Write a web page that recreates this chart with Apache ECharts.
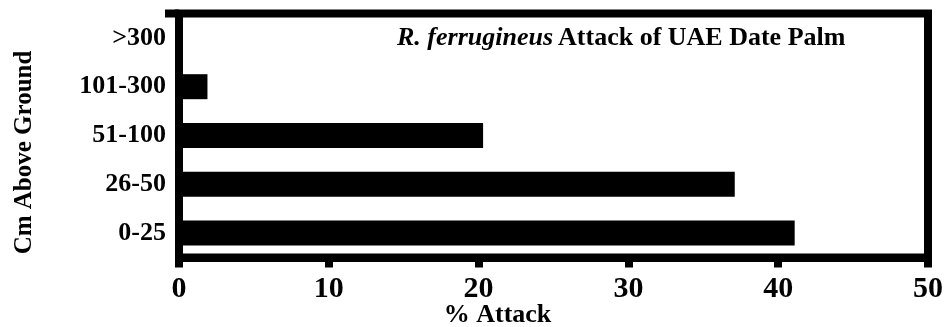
<!DOCTYPE html>
<html>
<head>
<meta charset="utf-8">
<script src="https://cdn.jsdelivr.net/npm/echarts@6/dist/echarts.min.js"></script>
<style>
  html, body { margin: 0; padding: 0; background: #fff; }
  #chart { width: 948px; height: 327px; }
</style>
</head>
<body>
<div id="chart"></div>
<script>
// heights above ground, bottom to top
const heightBands = ['0-25', '26-50', '51-100', '101-300', '>300'];
// % attack per band
const attackPct = [41.1, 37.1, 20.3, 1.9, 0];
const xTicks = [0, 10, 20, 30, 40, 50];

const FONT = '"Liberation Serif", "Times New Roman", serif';

const myChart = echarts.init(document.getElementById('chart'));

const option = {
  backgroundColor: '#fff',
  animation: false,
  title: {
    left: 397,
    top: 25,
    padding: 0,
    text: '{i|R. ferrugineus} {b|Attack of UAE Date Palm}',
    textStyle: {
      rich: {
        i: { fontFamily: FONT, fontSize: 26, fontWeight: 'bold', fontStyle: 'italic', color: '#000' },
        b: { fontFamily: FONT, fontSize: 26, fontWeight: 'bold', color: '#000' }
      }
    }
  },
  grid: {
    left: 179,
    right: 20,
    top: 13.5,
    bottom: 69.5,
    containLabel: false,
    outerBoundsMode: 'none',
    show: true,
    borderWidth: 8,
    borderColor: '#000',
    backgroundColor: 'transparent'
  },
  xAxis: {
    type: 'value',
    min: xTicks[0],
    max: xTicks[xTicks.length - 1],
    interval: 10,
    name: '% Attack',
    nameLocation: 'middle',
    nameGap: 45,
    nameMoveOverlap: false,
    nameTextStyle: {
      fontFamily: FONT, fontSize: 26, fontWeight: 'bold', color: '#000',
      padding: [0, 112, 0, 0]
    },
    axisLine: { show: true, lineStyle: { color: '#000', width: 8 } },
    axisTick: { show: true, length: 10, lineStyle: { color: '#000', width: 8 } },
    axisLabel: {
      margin: 17,
      fontFamily: FONT, fontSize: 30, fontWeight: 'bold', color: '#000'
    },
    splitLine: { show: false }
  },
  yAxis: {
    type: 'category',
    data: heightBands,
    name: 'Cm Above Ground',
    nameLocation: 'middle',
    nameRotate: 90,
    nameGap: 142,
    nameMoveOverlap: false,
    nameTextStyle: {
      fontFamily: FONT, fontSize: 25, fontWeight: 'bold', color: '#000',
      padding: [0, 34, 0, 0]
    },
    axisLine: { show: false },
    axisTick: { show: false },
    axisLabel: {
      margin: 13,
      fontFamily: FONT, fontSize: 26, fontWeight: 'bold', color: '#000'
    },
    splitLine: { show: false }
  },
  series: [
    {
      name: '% Attack',
      type: 'bar',
      data: attackPct,
      barWidth: 25,
      itemStyle: { color: '#000' }
    }
  ],
  graphic: [
    // small stub of the top frame line sticking out to the left
    {
      type: 'rect',
      shape: { x: 165, y: 9.5, width: 14, height: 8 },
      style: { fill: '#000' }
    }
  ]
};

myChart.setOption(option);
</script>
</body>
</html>
